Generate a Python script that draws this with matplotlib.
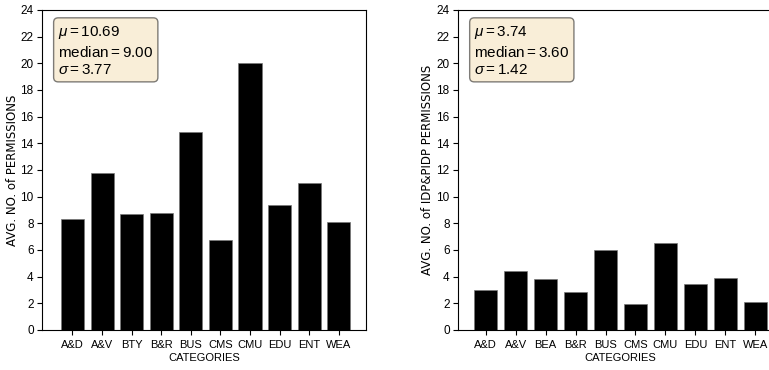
import matplotlib
matplotlib.use('Agg')
import matplotlib.pyplot as plt

# data
cats_left = ['A&D', 'A&V', 'BTY', 'B&R', 'BUS', 'CMS', 'CMU', 'EDU', 'ENT', 'WEA']
vals_left = [8.33, 11.75, 8.73, 8.8, 14.83, 6.78, 20.05, 9.35, 11.0, 8.08]
cats_right = ['A&D', 'A&V', 'BEA', 'B&R', 'BUS', 'CMS', 'CMU', 'EDU', 'ENT', 'WEA']
vals_right = [3.0, 4.43, 3.85, 2.88, 6.0, 1.98, 6.5, 3.45, 3.93, 2.08]
stats_left = (10.69, 9.00, 3.77)
stats_right = (3.74, 3.60, 1.42)

narrow = 'Liberation Sans'
plt.rcParams['mathtext.fontset'] = 'custom'
plt.rcParams['mathtext.rm'] = narrow
plt.rcParams['mathtext.it'] = narrow + ':italic'

fig = plt.figure(figsize=(7.69, 3.70), dpi=100)
W, H = 769, 370
ax1 = fig.add_axes([42 / W, 1 - 330 / H, (366 - 42) / W, 320 / H])
ax2 = fig.add_axes([458 / W, 1 - 330 / H, (783 - 458) / W, 320 / H])


def draw(ax, cats, vals, stats, ylabel, xlim, ylpad):
    ax.bar(range(len(cats)), vals, width=0.78, color='black', edgecolor='#777777', linewidth=0.5)
    ax.set_xticks(range(len(cats)))
    ax.set_xticklabels(cats, fontfamily=narrow, fontsize=8)
    ax.set_ylim(0, 24)
    ax.set_yticks(range(0, 25, 2))
    for t in ax.get_yticklabels():
        t.set_fontfamily(narrow)
        t.set_fontsize(8.5)
    ax.tick_params(length=3.5, pad=2.5)
    ax.tick_params(axis='x', pad=4)
    ax.set_xlim(*xlim)
    ax.set_xlabel('CATEGORIES', fontfamily=narrow, fontsize=8, labelpad=2)
    ax.set_ylabel(ylabel, fontsize=8.5, labelpad=ylpad)
    mu, med, sd = stats
    txt = '\n'.join([r'$\mu=%.2f$' % mu, r'$\mathrm{median}=%.2f$' % med, r'$\sigma=%.2f$' % sd])
    ax.text(0.05, 0.955, txt, transform=ax.transAxes, fontsize=11, va='top', ha='left',
            fontfamily=narrow, linespacing=1.3,
            bbox=dict(boxstyle='round', facecolor='wheat', alpha=0.5))


draw(ax1, cats_left, vals_left, stats_left, 'AVG. NO. of PERMISSIONS', (-1.03, 9.92), 1)
draw(ax2, cats_right, vals_right, stats_right, 'AVG. NO. of IDP&PIDP PERMISSIONS', (-0.92, 9.92), 1.5)

fig.savefig('out.png', dpi=100)
